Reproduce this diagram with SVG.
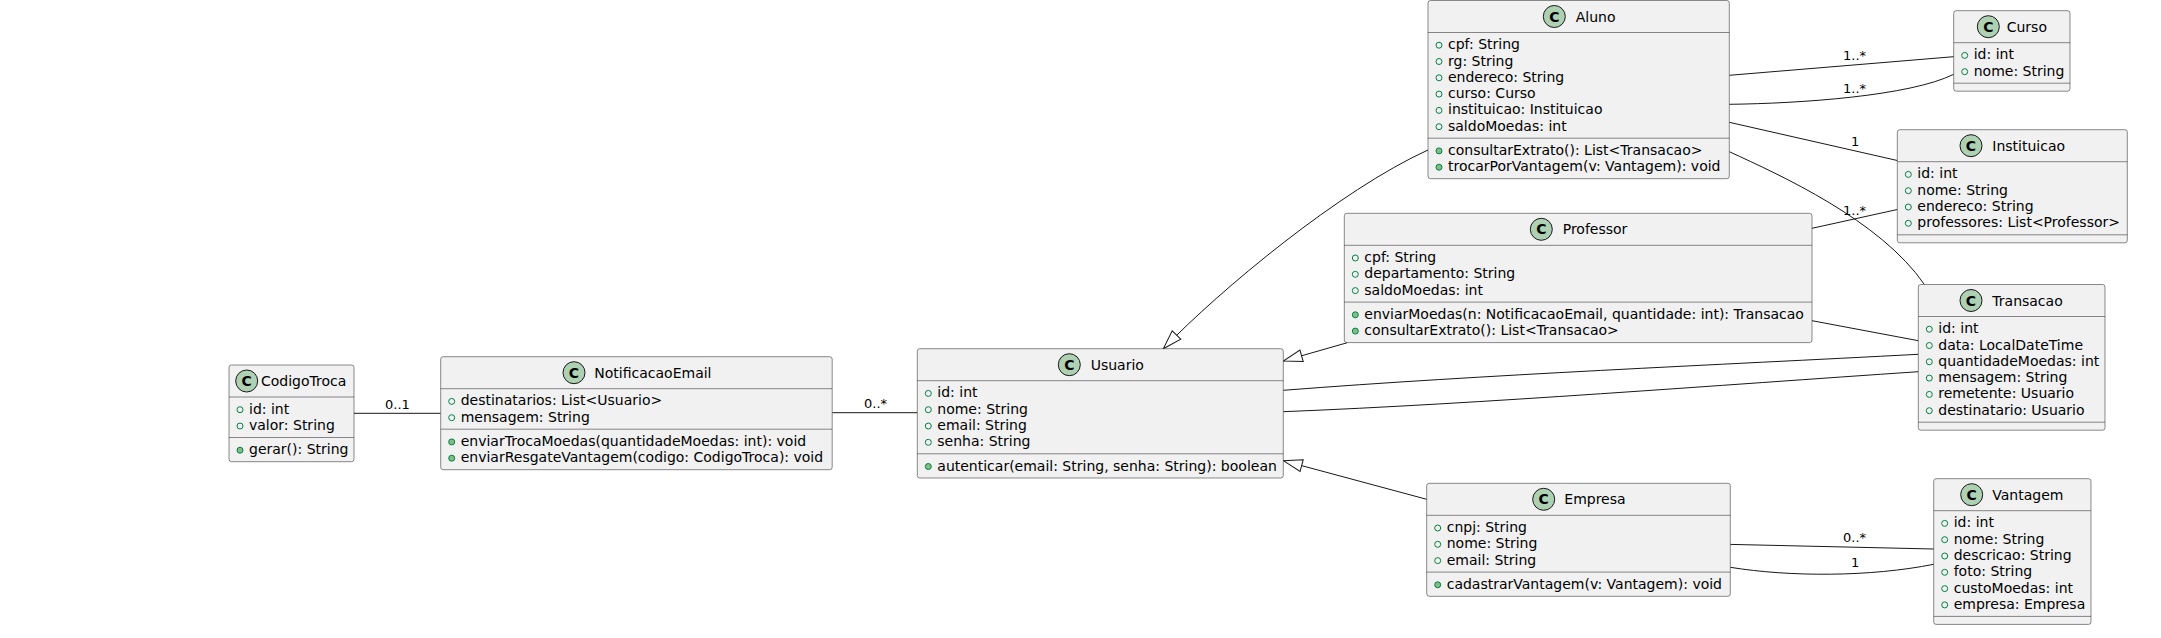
<svg xmlns="http://www.w3.org/2000/svg" width="2161" height="638" viewBox="0 0 2161 638">
<style>
.box{fill:#F1F1F1;stroke:#181818;stroke-width:0.5}
.sep{stroke:#181818;stroke-width:0.5}
.t{font-family:"DejaVu Sans",sans-serif;font-size:14px;font-weight:normal;fill:#000}
.lbl{font-family:"DejaVu Sans",sans-serif;font-size:13px;fill:#000}
.ci{fill:#ADD1B2;stroke:#181818;stroke-width:1}
.ct{font-family:"DejaVu Sans",sans-serif;font-size:14px;font-weight:bold;text-anchor:middle;fill:#000}
.pa{fill:none;stroke:#038048;stroke-width:1}
.pm{fill:#84BE84;stroke:#038048;stroke-width:1}
.edge{fill:none;stroke:#181818;stroke-width:1}
</style>
<defs>
<marker id="ext" viewBox="-20 -7 21 14" refX="0" refY="0" markerWidth="21" markerHeight="14" markerUnits="userSpaceOnUse" orient="auto">
<path d="M0,0 L-19,-6 L-19,6 Z" fill="#FFFFFF" stroke="#181818" stroke-width="1"/>
</marker>
</defs>
<rect width="2161" height="638" fill="#FFFFFF"/>

<g id="connectors">
<path class="edge" d="M354,413.3 L440.7,413.3"/>
<path class="edge" d="M832.2,412.7 L917.3,412.7"/>
<path class="edge" d="M1428,150 C1340,190 1220,290 1163.3,348.7" marker-end="url(#ext)"/>
<path class="edge" d="M1347.3,342.7 L1283.3,361" marker-end="url(#ext)"/>
<path class="edge" d="M1426.7,499.3 L1283.3,460.7" marker-end="url(#ext)"/>
<path class="edge" d="M1283.3,390.3 C1483,374.7 1718,364.9 1918.3,354.3"/>
<path class="edge" d="M1283.3,411.7 C1483,403.7 1718,385.2 1918.3,371.7"/>
<path class="edge" d="M1812,320.7 L1918.3,340.7"/>
<path class="edge" d="M1729.3,75.3 L1953.7,56.7"/>
<path class="edge" d="M1729.3,104.3 C1800,103.5 1910,96 1953.7,74.3"/>
<path class="edge" d="M1729.3,122.3 L1897.3,160.5"/>
<path class="edge" d="M1729.3,151.7 C1780,175 1880,220 1924.4,284.5"/>
<path class="edge" d="M1812,228.3 L1897.3,209.5"/>
<path class="edge" d="M1730.3,544.4 L1933.7,549"/>
<path class="edge" d="M1730.3,567.3 C1790,577 1870,577 1933.7,564.3"/>
<text class="lbl" x="385" y="409">0..1</text>
<text class="lbl" x="864" y="408.3">0..*</text>
<text class="lbl" x="1843" y="60">1..*</text>
<text class="lbl" x="1843" y="93">1..*</text>
<text class="lbl" x="1851" y="146">1</text>
<text class="lbl" x="1843" y="215">1..*</text>
<text class="lbl" x="1843" y="542">0..*</text>
<text class="lbl" x="1851" y="566.5">1</text>
</g>

<g id="CodigoTroca">
<rect class="box" x="229" y="365" width="125" height="96.7" rx="2.5"/>
<circle class="ci" cx="246.7" cy="381" r="11"/><text class="ct" x="246.7" y="386">C</text>
<text class="t" x="261" y="386">CodigoTroca</text>
<line class="sep" x1="229" y1="397" x2="354" y2="397"/>
<circle class="pa" cx="240" cy="409.7" r="3"/><text class="t" x="249" y="413.7">id: int</text>
<circle class="pa" cx="240" cy="426" r="3"/><text class="t" x="249" y="430">valor: String</text>
<line class="sep" x1="229" y1="437.5" x2="354" y2="437.5"/>
<circle class="pm" cx="240" cy="450.2" r="3"/><text class="t" x="249" y="454.2">gerar(): String</text>
</g>

<g id="NotificacaoEmail">
<rect class="box" x="440.7" y="356.7" width="391.5" height="113" rx="2.5"/>
<circle class="ci" cx="574" cy="372.7" r="11"/><text class="ct" x="574" y="377.7">C</text>
<text class="t" x="594.3" y="377.7">NotificacaoEmail</text>
<line class="sep" x1="440.7" y1="388.7" x2="832.2" y2="388.7"/>
<circle class="pa" cx="451.7" cy="401.4" r="3"/><text class="t" x="460.7" y="405.4">destinatarios: List&lt;Usuario&gt;</text>
<circle class="pa" cx="451.7" cy="417.7" r="3"/><text class="t" x="460.7" y="421.7">mensagem: String</text>
<line class="sep" x1="440.7" y1="429.2" x2="832.2" y2="429.2"/>
<circle class="pm" cx="451.7" cy="441.9" r="3"/><text class="t" x="460.7" y="445.9">enviarTrocaMoedas(quantidadeMoedas: int): void</text>
<circle class="pm" cx="451.7" cy="458.2" r="3"/><text class="t" x="460.7" y="462.2">enviarResgateVantagem(codigo: CodigoTroca): void</text>
</g>

<g id="Usuario">
<rect class="box" x="917.3" y="348.7" width="366" height="129.3" rx="2.5"/>
<circle class="ci" cx="1069.3" cy="364.7" r="11"/><text class="ct" x="1069.3" y="369.7">C</text>
<text class="t" x="1090.7" y="369.7">Usuario</text>
<line class="sep" x1="917.3" y1="380.7" x2="1283.3" y2="380.7"/>
<circle class="pa" cx="928.3" cy="393.4" r="3"/><text class="t" x="937.3" y="397.4">id: int</text>
<circle class="pa" cx="928.3" cy="409.7" r="3"/><text class="t" x="937.3" y="413.7">nome: String</text>
<circle class="pa" cx="928.3" cy="426" r="3"/><text class="t" x="937.3" y="430">email: String</text>
<circle class="pa" cx="928.3" cy="442.3" r="3"/><text class="t" x="937.3" y="446.3">senha: String</text>
<line class="sep" x1="917.3" y1="453.8" x2="1283.3" y2="453.8"/>
<circle class="pm" cx="928.3" cy="466.5" r="3"/><text class="t" x="937.3" y="470.5">autenticar(email: String, senha: String): boolean</text>
</g>

<g id="Aluno">
<rect class="box" x="1428" y="0.5" width="301.3" height="178.2" rx="2.5"/>
<circle class="ci" cx="1554.3" cy="16.5" r="11"/><text class="ct" x="1554.3" y="21.5">C</text>
<text class="t" x="1575.7" y="21.5">Aluno</text>
<line class="sep" x1="1428" y1="32.5" x2="1729.3" y2="32.5"/>
<circle class="pa" cx="1439" cy="45.2" r="3"/><text class="t" x="1448" y="49.2">cpf: String</text>
<circle class="pa" cx="1439" cy="61.5" r="3"/><text class="t" x="1448" y="65.5">rg: String</text>
<circle class="pa" cx="1439" cy="77.8" r="3"/><text class="t" x="1448" y="81.8">endereco: String</text>
<circle class="pa" cx="1439" cy="94.1" r="3"/><text class="t" x="1448" y="98.1">curso: Curso</text>
<circle class="pa" cx="1439" cy="110.4" r="3"/><text class="t" x="1448" y="114.4">instituicao: Instituicao</text>
<circle class="pa" cx="1439" cy="126.7" r="3"/><text class="t" x="1448" y="130.7">saldoMoedas: int</text>
<line class="sep" x1="1428" y1="138.2" x2="1729.3" y2="138.2"/>
<circle class="pm" cx="1439" cy="150.9" r="3"/><text class="t" x="1448" y="154.9">consultarExtrato(): List&lt;Transacao&gt;</text>
<circle class="pm" cx="1439" cy="167.2" r="3"/><text class="t" x="1448" y="171.2">trocarPorVantagem(v: Vantagem): void</text>
</g>

<g id="Professor">
<rect class="box" x="1344.3" y="213.3" width="467.7" height="129.3" rx="2.5"/>
<circle class="ci" cx="1541.3" cy="229.3" r="11"/><text class="ct" x="1541.3" y="234.3">C</text>
<text class="t" x="1562.7" y="234.3">Professor</text>
<line class="sep" x1="1344.3" y1="245.3" x2="1812" y2="245.3"/>
<circle class="pa" cx="1355.3" cy="258" r="3"/><text class="t" x="1364.3" y="262">cpf: String</text>
<circle class="pa" cx="1355.3" cy="274.3" r="3"/><text class="t" x="1364.3" y="278.3">departamento: String</text>
<circle class="pa" cx="1355.3" cy="290.6" r="3"/><text class="t" x="1364.3" y="294.6">saldoMoedas: int</text>
<line class="sep" x1="1344.3" y1="302.1" x2="1812" y2="302.1"/>
<circle class="pm" cx="1355.3" cy="314.8" r="3"/><text class="t" x="1364.3" y="318.8">enviarMoedas(n: NotificacaoEmail, quantidade: int): Transacao</text>
<circle class="pm" cx="1355.3" cy="331.1" r="3"/><text class="t" x="1364.3" y="335.1">consultarExtrato(): List&lt;Transacao&gt;</text>
</g>

<g id="Empresa">
<rect class="box" x="1426.7" y="483.3" width="303.6" height="113" rx="2.5"/>
<circle class="ci" cx="1543.7" cy="499.3" r="11"/><text class="ct" x="1543.7" y="504.3">C</text>
<text class="t" x="1564.3" y="504.3">Empresa</text>
<line class="sep" x1="1426.7" y1="515.3" x2="1730.3" y2="515.3"/>
<circle class="pa" cx="1437.7" cy="528" r="3"/><text class="t" x="1446.7" y="532">cnpj: String</text>
<circle class="pa" cx="1437.7" cy="544.3" r="3"/><text class="t" x="1446.7" y="548.3">nome: String</text>
<circle class="pa" cx="1437.7" cy="560.6" r="3"/><text class="t" x="1446.7" y="564.6">email: String</text>
<line class="sep" x1="1426.7" y1="572.1" x2="1730.3" y2="572.1"/>
<circle class="pm" cx="1437.7" cy="584.8" r="3"/><text class="t" x="1446.7" y="588.8">cadastrarVantagem(v: Vantagem): void</text>
</g>

<g id="Curso">
<rect class="box" x="1953.7" y="10.7" width="116.3" height="80.5" rx="2.5"/>
<circle class="ci" cx="1988.3" cy="26.7" r="11"/><text class="ct" x="1988.3" y="31.7">C</text>
<text class="t" x="2006.7" y="31.7">Curso</text>
<line class="sep" x1="1953.7" y1="42.7" x2="2070" y2="42.7"/>
<circle class="pa" cx="1964.7" cy="55.4" r="3"/><text class="t" x="1973.7" y="59.4">id: int</text>
<circle class="pa" cx="1964.7" cy="71.7" r="3"/><text class="t" x="1973.7" y="75.7">nome: String</text>
<line class="sep" x1="1953.7" y1="83.2" x2="2070" y2="83.2"/>
</g>

<g id="Instituicao">
<rect class="box" x="1897.3" y="129.7" width="230" height="113.1" rx="2.5"/>
<circle class="ci" cx="1971" cy="145.7" r="11"/><text class="ct" x="1971" y="150.7">C</text>
<text class="t" x="1992.3" y="150.7">Instituicao</text>
<line class="sep" x1="1897.3" y1="161.7" x2="2127.3" y2="161.7"/>
<circle class="pa" cx="1908.3" cy="174.4" r="3"/><text class="t" x="1917.3" y="178.4">id: int</text>
<circle class="pa" cx="1908.3" cy="190.7" r="3"/><text class="t" x="1917.3" y="194.7">nome: String</text>
<circle class="pa" cx="1908.3" cy="207" r="3"/><text class="t" x="1917.3" y="211">endereco: String</text>
<circle class="pa" cx="1908.3" cy="223.3" r="3"/><text class="t" x="1917.3" y="227.3">professores: List&lt;Professor&gt;</text>
<line class="sep" x1="1897.3" y1="234.8" x2="2127.3" y2="234.8"/>
</g>

<g id="Transacao">
<rect class="box" x="1918.3" y="284.5" width="186.7" height="145.7" rx="2.5"/>
<circle class="ci" cx="1971" cy="300.5" r="11"/><text class="ct" x="1971" y="305.5">C</text>
<text class="t" x="1992.3" y="305.5">Transacao</text>
<line class="sep" x1="1918.3" y1="316.5" x2="2105" y2="316.5"/>
<circle class="pa" cx="1929.3" cy="329.2" r="3"/><text class="t" x="1938.3" y="333.2">id: int</text>
<circle class="pa" cx="1929.3" cy="345.5" r="3"/><text class="t" x="1938.3" y="349.5">data: LocalDateTime</text>
<circle class="pa" cx="1929.3" cy="361.8" r="3"/><text class="t" x="1938.3" y="365.8">quantidadeMoedas: int</text>
<circle class="pa" cx="1929.3" cy="378.1" r="3"/><text class="t" x="1938.3" y="382.1">mensagem: String</text>
<circle class="pa" cx="1929.3" cy="394.4" r="3"/><text class="t" x="1938.3" y="398.4">remetente: Usuario</text>
<circle class="pa" cx="1929.3" cy="410.7" r="3"/><text class="t" x="1938.3" y="414.7">destinatario: Usuario</text>
<line class="sep" x1="1918.3" y1="422.2" x2="2105" y2="422.2"/>
</g>

<g id="Vantagem">
<rect class="box" x="1933.7" y="478.7" width="157.3" height="145.7" rx="2.5"/>
<circle class="ci" cx="1971.7" cy="494.7" r="11"/><text class="ct" x="1971.7" y="499.7">C</text>
<text class="t" x="1992.3" y="499.7">Vantagem</text>
<line class="sep" x1="1933.7" y1="510.7" x2="2091" y2="510.7"/>
<circle class="pa" cx="1944.7" cy="523.4" r="3"/><text class="t" x="1953.7" y="527.4">id: int</text>
<circle class="pa" cx="1944.7" cy="539.7" r="3"/><text class="t" x="1953.7" y="543.7">nome: String</text>
<circle class="pa" cx="1944.7" cy="556" r="3"/><text class="t" x="1953.7" y="560">descricao: String</text>
<circle class="pa" cx="1944.7" cy="572.3" r="3"/><text class="t" x="1953.7" y="576.3">foto: String</text>
<circle class="pa" cx="1944.7" cy="588.6" r="3"/><text class="t" x="1953.7" y="592.6">custoMoedas: int</text>
<circle class="pa" cx="1944.7" cy="604.9" r="3"/><text class="t" x="1953.7" y="608.9">empresa: Empresa</text>
<line class="sep" x1="1933.7" y1="616.4" x2="2091" y2="616.4"/>
</g>
</svg>
